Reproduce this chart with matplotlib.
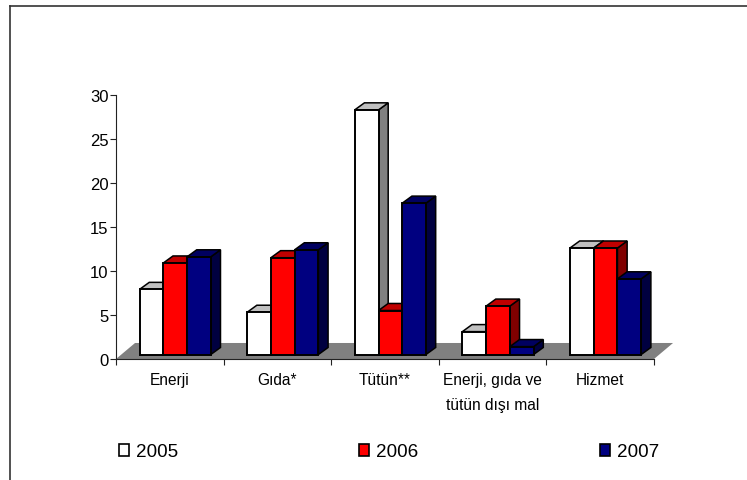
import matplotlib
matplotlib.use("Agg")
import matplotlib.pyplot as plt
from matplotlib.patches import Patch, Polygon
from matplotlib.lines import Line2D

plt.rcParams['font.family'] = ['Liberation Sans', 'DejaVu Sans']

categories = ['Enerji', 'Gıda*', 'Tütün**', 'Enerji, gıda ve\ntütün dışı mal', 'Hizmet']
years = ['2005', '2006', '2007']
values_2005 = [7.4, 4.8, 27.8, 2.6, 12.1]
values_2006 = [10.4, 11.0, 5.0, 5.5, 12.1]
values_2007 = [11.1, 11.9, 17.2, 0.9, 8.6]
y_ticks = [0, 5, 10, 15, 20, 25, 30]

# front, top and side colours for each year
colors = [('#ffffff', '#c0c0c0', '#808080'),
          ('#ff0000', '#c00000', '#800000'),
          ('#000080', '#000060', '#000040')]

W, H = 747, 481
fig = plt.figure(figsize=(W / 100, H / 100), dpi=100)
ax = fig.add_axes([116 / W, 1 - 360 / H, 538 / W, 264 / H])
ax.set_xlim(0, 5)
ax.set_ylim(0, 30)

# oblique offsets for the fake 3d look, in data units
bar_w = 0.2207
depth_x, depth_y = 0.09, 0.8
floor_x, floor_y = 0.177, 1.82
base_x, base_y = 0.05, 0.51

floor = Polygon([(0, 0), (5, 0), (5 + floor_x, floor_y), (floor_x, floor_y)],
                facecolor='#808080', edgecolor='none', clip_on=False, zorder=1)
ax.add_patch(floor)

series = [values_2005, values_2006, values_2007]
z = 2
for c in range(len(categories)):
    for s, vals in enumerate(series):
        x0 = c + 0.5 + base_x + (s - 1.5) * bar_w
        x1 = x0 + bar_w
        top = base_y + vals[c]
        front, top_col, side = colors[s]
        ax.add_patch(Polygon([(x1, base_y), (x1 + depth_x, base_y + depth_y),
                              (x1 + depth_x, top + depth_y), (x1, top)],
                             facecolor=side, edgecolor='black', lw=1.1, clip_on=False, zorder=z))
        ax.add_patch(Polygon([(x0, top), (x0 + depth_x, top + depth_y),
                              (x1 + depth_x, top + depth_y), (x1, top)],
                             facecolor=top_col, edgecolor='black', lw=1.1, clip_on=False, zorder=z))
        ax.bar(x0, vals[c], bar_w, bottom=base_y, align='edge', color=front,
               edgecolor='black', lw=1.4, clip_on=False, zorder=z + 0.5)
        z += 1

for sp in ['top', 'right']:
    ax.spines[sp].set_visible(False)
for sp in ['left', 'bottom']:
    ax.spines[sp].set_color('#222222')
    ax.spines[sp].set_linewidth(0.8)
    ax.spines[sp].set_zorder(50)

ax.set_yticks(y_ticks)
ax.set_xticks(range(6))
ax.set_xticklabels([])
ax.set_xticks([i + 0.5 for i in range(5)], minor=True)
ax.set_xticklabels(categories, minor=True, fontsize=11.2, linespacing=1.8, va='top')
ax.tick_params(axis='x', which='minor', length=0, pad=9.5)
ax.tick_params(axis='x', which='major', length=4.5, width=0.8, color='#222222')
ax.tick_params(axis='y', length=4, width=0.8, color='#222222', labelsize=12, pad=1.5)

# outer frame of the chart area
fig.add_artist(Line2D([10 / W, 10 / W], [0, 1 - 7 / H], color='#333333', lw=1.2))
fig.add_artist(Line2D([10 / W, 1], [1 - 7 / H, 1 - 7 / H], color='#333333', lw=1.2))

handles = [Patch(facecolor=colors[i][0], edgecolor='black', lw=1.2) for i in range(3)]
fig.legend(handles, years, ncol=3, frameon=False, fontsize=13.6, handlelength=0.53,
           handleheight=0.64, handletextpad=0.37, columnspacing=9.6,
           loc='center left', bbox_to_anchor=(119 / W, 1 - 453 / H), borderaxespad=0,
           borderpad=0)

fig.savefig('out.png', dpi=100)
